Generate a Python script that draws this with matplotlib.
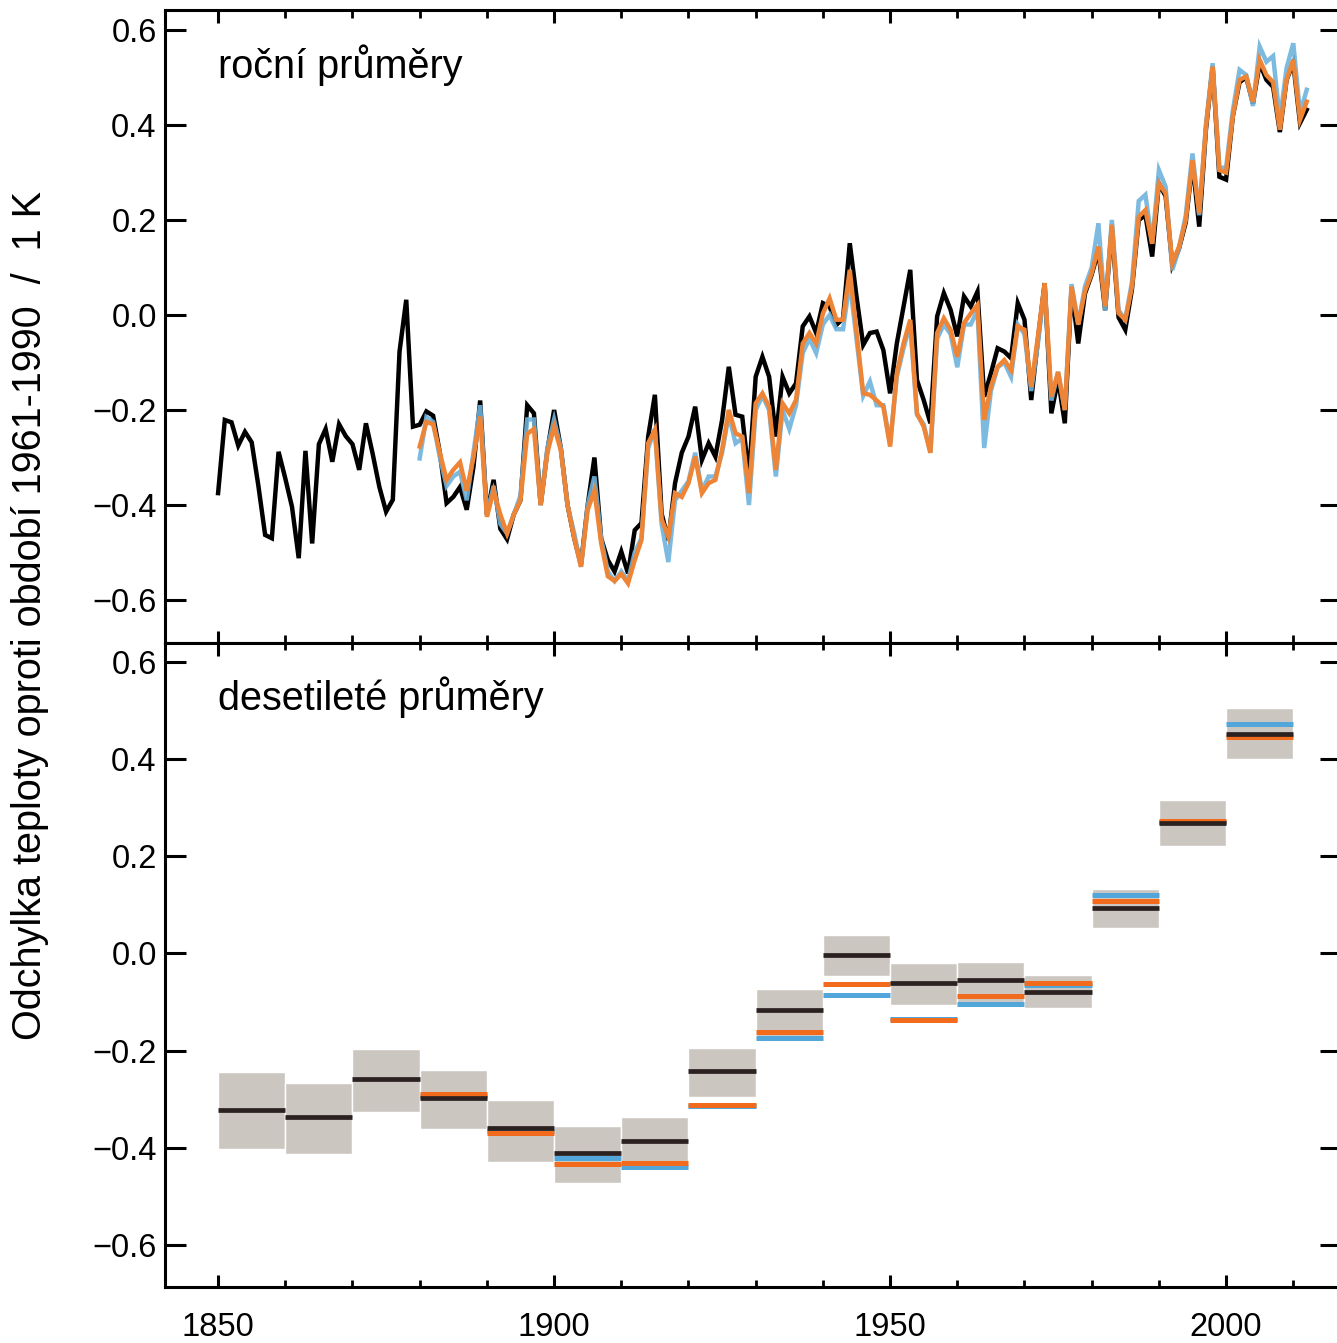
import matplotlib
matplotlib.use("Agg")
import matplotlib.pyplot as plt
import matplotlib.transforms as mtransforms
from matplotlib.ticker import MultipleLocator
import numpy as np

plt.rcParams['font.family'] = ['Liberation Sans', 'DejaVu Sans']

# ---------------- data ----------------
years_black = list(range(1850, 2013))
black_annual = [
    -0.375, -0.221, -0.226, -0.275, -0.246, -0.268, -0.360, -0.463, -0.470, -0.288,
    -0.344, -0.404, -0.512, -0.286, -0.481, -0.272, -0.240, -0.309, -0.230, -0.255,
    -0.272, -0.326, -0.228, -0.292, -0.362, -0.414, -0.389, -0.077, 0.032, -0.235,
    -0.231, -0.203, -0.212, -0.290, -0.396, -0.383, -0.362, -0.410, -0.320, -0.180,
    -0.420, -0.347, -0.450, -0.472, -0.420, -0.390, -0.190, -0.207, -0.400, -0.285,
    -0.200, -0.280, -0.400, -0.470, -0.525, -0.400, -0.300, -0.470, -0.516, -0.540,
    -0.498, -0.544, -0.453, -0.438, -0.256, -0.168, -0.418, -0.474, -0.354, -0.290,
    -0.256, -0.193, -0.305, -0.270, -0.298, -0.221, -0.109, -0.210, -0.214, -0.340,
    -0.130, -0.088, -0.130, -0.256, -0.130, -0.165, -0.144, -0.024, -0.003, -0.038,
    0.025, 0.018, -0.021, -0.007, 0.151, 0.039, -0.063, -0.038, -0.035, -0.074,
    -0.165, -0.060, 0.018, 0.095, -0.137, -0.179, -0.228, -0.003, 0.046, 0.011,
    -0.045, 0.039, 0.018, 0.049, -0.172, -0.123, -0.070, -0.077, -0.091, 0.025,
    -0.010, -0.179, -0.052, 0.067, -0.207, -0.135, -0.228, 0.055, -0.060, 0.045,
    0.085, 0.135, 0.010, 0.185, -0.005, -0.031, 0.055, 0.200, 0.210, 0.123,
    0.277, 0.250, 0.105, 0.140, 0.195, 0.320, 0.186, 0.390, 0.523, 0.291,
    0.285, 0.418, 0.490, 0.500, 0.445, 0.530, 0.495, 0.480, 0.385, 0.495,
    0.530, 0.404, 0.432]

years_other = list(range(1880, 2013))
orange_annual = [
    -0.277, -0.225, -0.230, -0.290, -0.347, -0.326, -0.310, -0.370, -0.300, -0.214,
    -0.425, -0.370, -0.420, -0.460, -0.420, -0.390, -0.250, -0.240, -0.400, -0.290,
    -0.235, -0.285, -0.400, -0.470, -0.530, -0.410, -0.370, -0.480, -0.550, -0.560,
    -0.545, -0.565, -0.516, -0.474, -0.270, -0.242, -0.430, -0.467, -0.375, -0.383,
    -0.354, -0.298, -0.375, -0.354, -0.347, -0.284, -0.200, -0.249, -0.256, -0.375,
    -0.186, -0.165, -0.193, -0.326, -0.186, -0.207, -0.179, -0.060, -0.038, -0.060,
    0.003, 0.035, -0.010, -0.010, 0.095, -0.035, -0.165, -0.168, -0.180, -0.193,
    -0.277, -0.123, -0.060, -0.010, -0.207, -0.235, -0.290, -0.038, -0.007, -0.031,
    -0.088, -0.017, 0.003, 0.021, -0.221, -0.151, -0.109, -0.095, -0.116, -0.024,
    -0.031, -0.151, -0.045, 0.067, -0.172, -0.120, -0.200, 0.060, -0.020, 0.050,
    0.088, 0.144, 0.018, 0.190, 0.004, -0.010, 0.060, 0.207, 0.221, 0.150,
    0.277, 0.256, 0.109, 0.144, 0.200, 0.326, 0.214, 0.396, 0.523, 0.305,
    0.300, 0.418, 0.495, 0.502, 0.449, 0.537, 0.505, 0.490, 0.390, 0.495,
    0.537, 0.411, 0.449]

blue_annual = [
    -0.302, -0.215, -0.225, -0.300, -0.360, -0.340, -0.330, -0.390, -0.290, -0.190,
    -0.420, -0.360, -0.440, -0.460, -0.420, -0.380, -0.220, -0.220, -0.400, -0.280,
    -0.220, -0.280, -0.400, -0.460, -0.530, -0.400, -0.340, -0.470, -0.540, -0.560,
    -0.540, -0.560, -0.500, -0.470, -0.280, -0.240, -0.440, -0.520, -0.390, -0.370,
    -0.350, -0.290, -0.370, -0.340, -0.340, -0.290, -0.210, -0.270, -0.260, -0.400,
    -0.200, -0.170, -0.200, -0.340, -0.200, -0.240, -0.190, -0.080, -0.050, -0.080,
    -0.020, 0.000, -0.030, -0.030, 0.070, -0.050, -0.170, -0.140, -0.190, -0.190,
    -0.270, -0.130, -0.070, -0.020, -0.210, -0.230, -0.290, -0.050, -0.020, -0.040,
    -0.110, -0.020, -0.020, 0.010, -0.280, -0.160, -0.110, -0.100, -0.130, -0.020,
    -0.040, -0.160, -0.060, 0.060, -0.180, -0.120, -0.200, 0.065, -0.020, 0.060,
    0.100, 0.193, 0.010, 0.200, 0.010, -0.010, 0.070, 0.240, 0.253, 0.150,
    0.305, 0.270, 0.095, 0.140, 0.210, 0.340, 0.210, 0.400, 0.530, 0.310,
    0.310, 0.430, 0.516, 0.505, 0.440, 0.565, 0.533, 0.545, 0.410, 0.520,
    0.572, 0.425, 0.474]

decades = [1850, 1860, 1870, 1880, 1890, 1900, 1910, 1920, 1930, 1940,
           1950, 1960, 1970, 1980, 1990, 2000]
black_decadal = [-0.322, -0.336, -0.259, -0.298, -0.360, -0.410, -0.387, -0.242,
                 -0.116, -0.003, -0.061, -0.055, -0.079, 0.094, 0.269, 0.452]
unc_low = [-0.403, -0.413, -0.326, -0.362, -0.430, -0.473, -0.446, -0.295,
           -0.177, -0.046, -0.106, -0.110, -0.113, 0.052, 0.221, 0.400]
unc_high = [-0.245, -0.266, -0.197, -0.240, -0.302, -0.355, -0.336, -0.195,
            -0.074, 0.038, -0.020, -0.017, -0.044, 0.132, 0.316, 0.506]
decades_other = [1880, 1890, 1900, 1910, 1920, 1930, 1940, 1950, 1960, 1970,
                 1980, 1990, 2000]
orange_decadal = [-0.289, -0.370, -0.434, -0.432, -0.312, -0.162, -0.063, -0.137,
                  -0.087, -0.060, 0.108, 0.272, 0.446]
blue_decadal = [-0.293, -0.365, -0.420, -0.439, -0.314, -0.175, -0.085, -0.135,
                -0.104, -0.064, 0.120, 0.270, 0.472]

yticks = [-0.6, -0.4, -0.2, 0.0, 0.2, 0.4, 0.6]
xticks = [1850, 1900, 1950, 2000]
panel_titles = ["roční průměry", "desetileté průměry"]
ylabel = "Odchylka teploty oproti období 1961-1990  /  1 K"

# ---------------- figure ----------------
W, H = 1337, 1343
fig = plt.figure(figsize=(W / 100, H / 100), dpi=100)

left = 165 / W
right = 1341 / W
ax1 = fig.add_axes([left, 1 - 643 / H, right - left, (643 - 10) / H])
ax2 = fig.add_axes([left, 1 - 1287 / H, right - left, (1287 - 643) / H])

c_black = '#000000'
c_blue_top = '#6FB3DC'
c_orange_top = '#EE8435'
c_blue_bot = '#52A6DA'
c_orange_bot = '#F26A1C'
c_black_bot = '#2A2120'
c_grey = '#CBC6C0'

lw = 3.2
ax1.plot(years_black, black_annual, color=c_black, lw=lw, solid_joinstyle='miter', zorder=2)
ax1.plot(years_other, blue_annual, color=c_blue_top, lw=lw, alpha=0.9, solid_joinstyle='miter', zorder=3)
ax1.plot(years_other, orange_annual, color=c_orange_top, lw=lw, solid_joinstyle='miter', zorder=4)

ax2.bar(decades, np.array(unc_high) - np.array(unc_low), bottom=unc_low, width=10,
        align='edge', color=c_grey, edgecolor='white', linewidth=1.0, zorder=1)
d_other = np.array(decades_other)
d_all = np.array(decades)
ax2.hlines(blue_decadal, d_other, d_other + 10, colors=c_blue_bot, lw=3.6, capstyle='butt', zorder=2)
ax2.hlines(orange_decadal, d_other, d_other + 10, colors=c_orange_bot, lw=3.6, capstyle='butt', zorder=3)
ax2.hlines(black_decadal, d_all, d_all + 10, colors=c_black_bot, lw=3.4, capstyle='butt', zorder=4)

xlim = (1842.1, 2017.1)
ax1.set_xlim(*xlim)
ax2.set_xlim(*xlim)
ax1.set_ylim(-0.6905, 0.642)
ax2.set_ylim(-0.6865, 0.639)

for ax in (ax1, ax2):
    ax.set_yticks(yticks)
    ax.set_yticklabels([f"{v:.1f}".replace('-', '\u2212') for v in yticks])
    ax.xaxis.set_major_locator(MultipleLocator(50))
    ax.xaxis.set_minor_locator(MultipleLocator(10))
    for s in ax.spines.values():
        s.set_linewidth(2.2)
    ax.tick_params(axis='y', which='major', direction='in', left=True, right=True,
                   length=15, width=2.2, labelsize=23.5, pad=6)
    ax.tick_params(axis='x', which='major', direction='in', top=True, bottom=True,
                   length=9, width=2.2, labelsize=23.5, pad=18)
    ax.tick_params(axis='x', which='minor', direction='in', top=True, bottom=True,
                   length=5, width=2.0)

ax1.tick_params(axis='x', which='minor', length=6)
ax1.tick_params(axis='x', labelbottom=False)
ax2.set_xticks(xticks)
ax2.set_xticklabels([str(x) for x in xticks])

ax1.text(1850, (643 - 78) / 633, panel_titles[0],
         transform=mtransforms.blended_transform_factory(ax1.transData, ax1.transAxes),
         fontsize=28.5, ha='left', va='baseline')
ax2.text(1850, (1287 - 710) / 644, panel_titles[1],
         transform=mtransforms.blended_transform_factory(ax2.transData, ax2.transAxes),
         fontsize=28.5, ha='left', va='baseline')

fig.text(30 / W, 1 - 615 / H, ylabel, rotation=90, ha='center', va='center', fontsize=28.5)

fig.savefig('out.png', dpi=100)
